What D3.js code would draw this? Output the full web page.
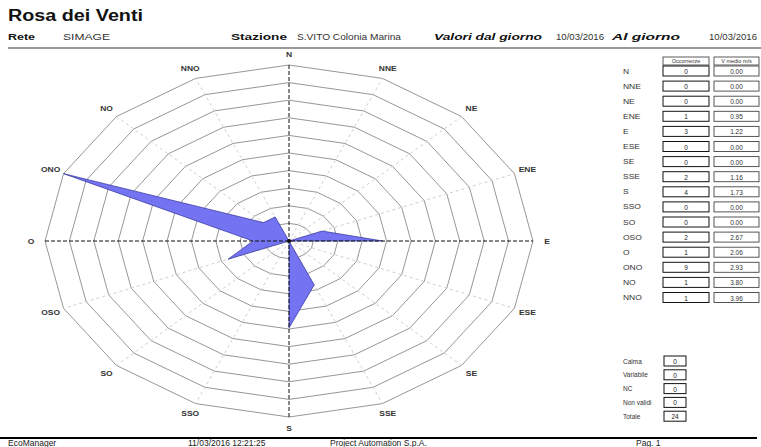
<!DOCTYPE html>
<html>
<head>
<meta charset="utf-8">
<script src="https://cdn.jsdelivr.net/npm/d3@7"></script>
<style>
  html, body { margin: 0; padding: 0; background: #fff; }
  svg { display: block; font-family: "Liberation Sans", Arial, Helvetica, sans-serif; }
</style>
</head>
<body>
<script>
// ---------- data ----------
const directions = ["N","NNE","NE","ENE","E","ESE","SE","SSE","S","SSO","SO","OSO","O","ONO","NO","NNO"];
const occorrenze = [0,0,0,1,3,0,0,2,4,0,0,2,1,9,1,1];
const velocitaMedia = ["0.00","0.00","0.00","0.95","1.22","0.00","0.00","1.16","1.73","0.00","0.00","2.67","2.06","2.93","3.80","3.96"];
const tableHeaders = ["Occorrenze","V medio m/s"];
const summaryLabels = ["Calma","Variabile","NC","Non validi","Totale"];
const summaryValues = [0,0,0,0,24];
const ringCount = 10;

// ---------- layout ----------
const W = 761, H = 447;
const cx = 289, cy = 241, rx = 244, ry = 176;

const svg = d3.select("body").append("svg").attr("width", W).attr("height", H);

function stretch(sel, k) {
  sel.each(function () {
    const w = this.getComputedTextLength();
    d3.select(this).attr("textLength", w * k).attr("lengthAdjust", "spacingAndGlyphs");
  });
}
function fixLen(sel, len) {
  sel.attr("textLength", len).attr("lengthAdjust", "spacingAndGlyphs");
}

// ---------- header ----------
fixLen(svg.append("text").attr("x", 8).attr("y", 21).attr("font-size", 16).attr("font-weight", "bold")
  .attr("fill", "#111").text("Rosa dei Venti"), 135);

const hdrY = 40;
const hdr = [
  {t: "Rete", x: 8, w: 27, b: true, i: false},
  {t: "SIMAGE", x: 63, w: 47, b: false, i: false},
  {t: "Stazione", x: 231, w: 56, b: true, i: false},
  {t: "S.VITO Colonia Marina", x: 297, w: 104, b: false, i: false},
  {t: "Valori dal giorno", x: 434, w: 108, b: true, i: true},
  {t: "10/03/2016", x: 556, w: 48, b: false, i: false},
  {t: "Al giorno", x: 612, w: 68, b: true, i: true},
  {t: "10/03/2016", x: 709, w: 48, b: false, i: false}
];
hdr.forEach(h => {
  fixLen(svg.append("text").attr("x", h.x).attr("y", hdrY).attr("font-size", 9)
    .attr("font-weight", h.b ? "bold" : "normal").attr("font-style", h.i ? "italic" : "normal")
    .attr("fill", h.b ? "#111" : "#333").text(h.t), h.w);
});
svg.append("line").attr("x1", 8).attr("x2", 761).attr("y1", 48).attr("y2", 48)
  .attr("stroke", "#777").attr("stroke-width", 1.5);

// ---------- scales ----------
const angle = d3.scaleLinear().domain([0, directions.length]).range([0, 2 * Math.PI]);
const sx = d3.scaleLinear().domain([-1, 1]).range([cx - rx, cx + rx]);
const sy = d3.scaleLinear().domain([-1, 1]).range([cy + ry, cy - ry]);
const rScale = d3.scalePow().exponent(0.87).domain([0, d3.max(occorrenze)]).range([0, 1]);

const polar = (r, i) => [sx(r * Math.sin(angle(i))), sy(r * Math.cos(angle(i)))];

const gChart = svg.append("g");

// rings
const ringLevels = d3.range(1, ringCount + 1).map(k => k / ringCount);
const idx = d3.range(directions.length);
gChart.selectAll("path.ring").data(ringLevels).join("path")
  .attr("class", "ring")
  .attr("d", lv => d3.line().x(i => polar(lv, i)[0]).y(i => polar(lv, i)[1]).curve(d3.curveLinearClosed)(idx))
  .attr("fill", "none").attr("stroke", "#8a8a8a").attr("stroke-width", 0.9);

// light spokes
gChart.selectAll("line.spoke").data(idx.filter(i => i % 4 !== 0)).join("line")
  .attr("class", "spoke")
  .attr("x1", cx).attr("y1", cy)
  .attr("x2", i => polar(1, i)[0]).attr("y2", i => polar(1, i)[1])
  .attr("stroke", "#cfcfcf").attr("stroke-width", 1).attr("stroke-dasharray", "3,3");

// data polygon
gChart.append("path")
  .attr("d", d3.line()
    .x((v, i) => polar(rScale(v), i)[0])
    .y((v, i) => polar(rScale(v), i)[1])
    .curve(d3.curveLinearClosed)(occorrenze))
  .attr("fill", "#7474f2").attr("stroke", "#30309a").attr("stroke-width", 0.7);

// main axes
gChart.append("line").attr("x1", sx(-1)).attr("x2", sx(1)).attr("y1", cy).attr("y2", cy)
  .attr("stroke", "#111").attr("stroke-width", 1).attr("stroke-dasharray", "4,2");
gChart.append("line").attr("x1", cx).attr("x2", cx).attr("y1", sy(1)).attr("y2", sy(-1))
  .attr("stroke", "#111").attr("stroke-width", 1).attr("stroke-dasharray", "4,2");
gChart.append("circle").attr("cx", cx).attr("cy", cy).attr("r", 2).attr("fill", "#111");

// direction labels
const lbl = gChart.selectAll("text.dir").data(directions).join("text")
  .attr("class", "dir")
  .attr("x", (d, i) => cx + (rx + 14) * Math.sin(angle(i)))
  .attr("y", (d, i) => cy - (ry + 11) * Math.cos(angle(i)))
  .attr("text-anchor", "middle").attr("dominant-baseline", "central")
  .attr("font-size", 6.5).attr("font-weight", "bold").attr("fill", "#333")
  .text(d => d);
stretch(lbl, 1.3);

// ---------- table ----------
const colOcc = {x: 663, w: 46}, colVel = {x: 714, w: 45};
const rowY0 = 71, rowStep = 15.1, boxH = 10;

// header boxes
[colOcc, colVel].forEach((c, k) => {
  svg.append("rect").attr("x", c.x).attr("y", 57).attr("width", c.w).attr("height", 8)
    .attr("fill", "#fff").attr("stroke", "#333").attr("stroke-width", 0.8);
  svg.append("text").attr("x", c.x + c.w / 2).attr("y", 61.2)
    .attr("text-anchor", "middle").attr("dominant-baseline", "central")
    .attr("font-size", 5.5).attr("fill", "#333").text(tableHeaders[k]);
});

const rows = svg.append("g").selectAll("g").data(directions).join("g")
  .attr("transform", (d, i) => `translate(0,${rowY0 + i * rowStep})`);
stretch(rows.append("text").attr("x", 623).attr("y", 0).attr("dominant-baseline", "central")
  .attr("font-size", 6.5).attr("fill", "#333").text(d => d), 1.3);
rows.append("rect").attr("x", colOcc.x).attr("y", -boxH / 2).attr("width", colOcc.w).attr("height", boxH)
  .attr("fill", "#fff").attr("stroke", "#111").attr("stroke-width", 1);
rows.append("text").attr("x", colOcc.x + colOcc.w / 2).attr("y", 0.5)
  .attr("text-anchor", "middle").attr("dominant-baseline", "central")
  .attr("font-size", 6.5).attr("fill", "#222").text((d, i) => occorrenze[i]);
rows.append("rect").attr("x", colVel.x).attr("y", -boxH / 2).attr("width", colVel.w).attr("height", boxH)
  .attr("fill", "#fff").attr("stroke", "#444").attr("stroke-width", 0.9);
rows.append("text").attr("x", colVel.x + colVel.w / 2).attr("y", 0.5)
  .attr("text-anchor", "middle").attr("dominant-baseline", "central")
  .attr("font-size", 6.5).attr("fill", "#333").text((d, i) => velocitaMedia[i]);

// summary
const sRows = svg.append("g").selectAll("g").data(summaryLabels).join("g")
  .attr("transform", (d, i) => `translate(0,${361 + i * 13.8})`);
sRows.append("text").attr("x", 623).attr("y", 0).attr("dominant-baseline", "central")
  .attr("font-size", 6.5).attr("fill", "#333").text(d => d);
sRows.append("rect").attr("x", 664).attr("y", -boxH / 2).attr("width", 22).attr("height", boxH)
  .attr("fill", "#fff").attr("stroke", "#111").attr("stroke-width", 1);
sRows.append("text").attr("x", 675).attr("y", 0.5)
  .attr("text-anchor", "middle").attr("dominant-baseline", "central")
  .attr("font-size", 6.5).attr("fill", "#222").text((d, i) => summaryValues[i]);

// ---------- footer ----------
svg.append("line").attr("x1", 0).attr("x2", 757).attr("y1", 438).attr("y2", 438)
  .attr("stroke", "#000").attr("stroke-width", 2.2);
const foot = [
  {t: "EcoManager", x: 8},
  {t: "11/03/2016 12:21:25", x: 188},
  {t: "Project Automation S.p.A.", x: 330},
  {t: "Pag. 1", x: 636}
];
foot.forEach(f => {
  svg.append("text").attr("x", f.x).attr("y", 445.5).attr("font-size", 8.5)
    .attr("fill", "#222").text(f.t);
});
</script>
</body>
</html>
